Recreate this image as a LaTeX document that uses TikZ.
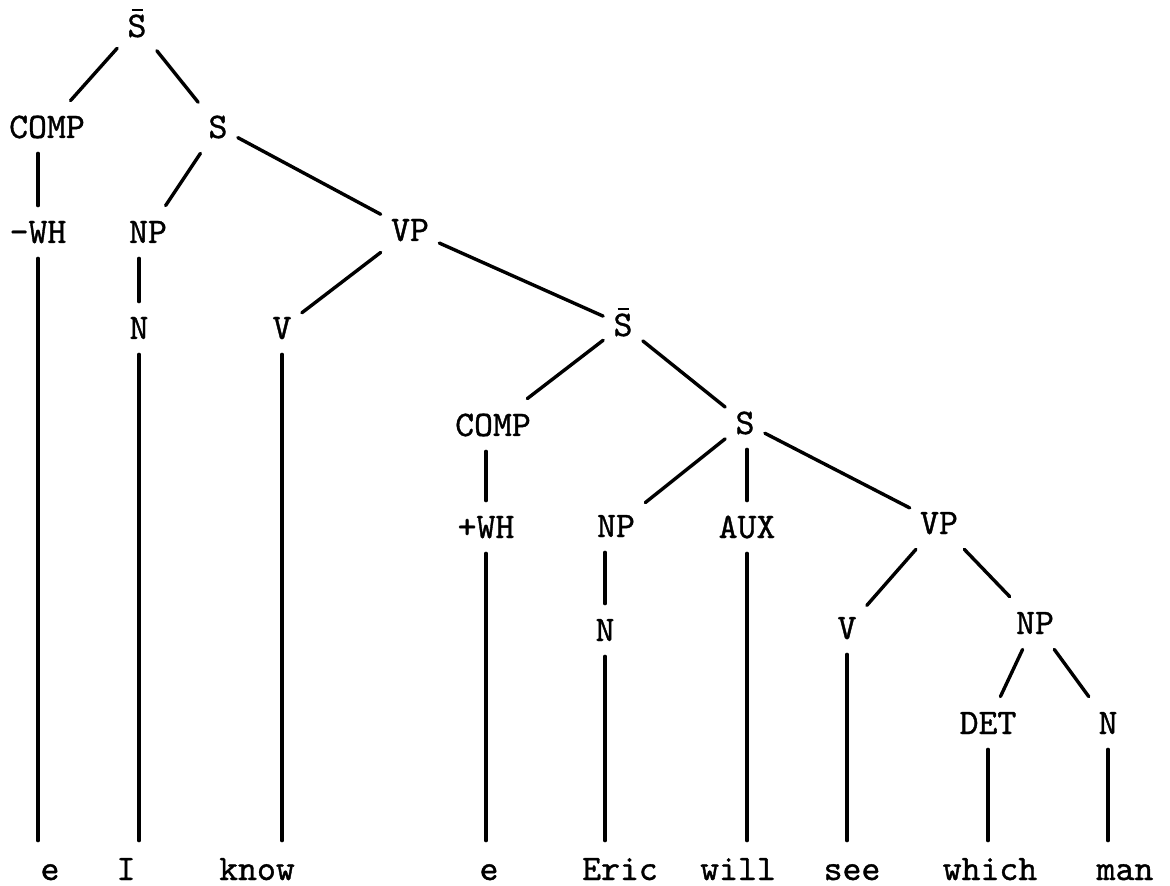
\documentclass[tikz,border=0pt]{standalone}
\usepackage{fontspec}
\newfontfamily\twfont{lmmono10-regular.otf}[FakeBold=1]
\newcommand{\sbarlabel}{\ooalign{S\cr\hidewidth\rule[12.8pt]{5.5pt}{1pt}\hidewidth\cr}}
\begin{document}
\begin{tikzpicture}[x=0.5pt,y=-0.5pt,
  lab/.style={font=\twfont\fontsize{18}{20}\selectfont, text height=11pt, text depth=0pt, inner xsep=5pt, inner ysep=7.5pt},
  leaf/.style={font=\twfont\fontsize{18}{20}\selectfont, anchor=base, text height=9.5pt, text depth=0pt, inner xsep=2pt, inner ysep=10pt},
  branch/.style={line width=1.7pt, line cap=round}]
\useasboundingbox (0,0) rectangle (1170,886);
% categories
\node[lab] (sb1) at (137,26) {\sbarlabel};
\node[lab] (comp1) at (47,127) {COMP};
\node[lab] (s1) at (218,127) {S};
\node[lab] (wh1) at (38,232) {-WH};
\node[lab] (np1) at (148,232) {NP};
\node[lab] (vp1) at (410,230) {VP};
\node[lab] (n1) at (139,328) {N};
\node[lab] (v1) at (282,328) {V};
\node[lab] (sb2) at (623,325) {\sbarlabel};
\node[lab] (comp2) at (493,425) {COMP};
\node[lab] (s2) at (745,423) {S};
\node[lab] (wh2) at (486,527) {+WH};
\node[lab] (np2) at (616,526) {NP};
\node[lab] (aux) at (747,527) {AUX};
\node[lab] (vp2) at (939,523) {VP};
\node[lab] (n2) at (605,630) {N};
\node[lab] (v2) at (847,628) {V};
\node[lab] (np3) at (1035,623) {NP};
\node[lab] (det) at (988,723) {DET};
\node[lab] (n3) at (1108,723) {N};
% words
\node[leaf] (w1) at (50,880) {e};
\node[leaf] (w2) at (126,880) {I};
\node[leaf] (w3) at (257,880) {know};
\node[leaf] (w4) at (489,880) {e};
\node[leaf] (w5) at (620,880) {Eric};
\node[leaf] (w6) at (738,880) {will};
\node[leaf] (w7) at (852,880) {see};
\node[leaf] (w8) at (990,880) {which};
\node[leaf] (w9) at (1125,880) {man};
% branches
\begin{scope}[branch]
\draw (sb1) -- (comp1);
\draw (sb1) -- (s1);
\draw (comp1.south -| wh1) -- (wh1);
\draw (s1) -- (np1);
\draw (s1) -- (vp1);
\draw (np1.south -| n1) -- (n1);
\draw (vp1) -- (v1);
\draw (vp1) -- (sb2);
\draw (sb2) -- (comp2);
\draw (sb2) -- (s2);
\draw (comp2.south -| wh2) -- (wh2);
\draw (s2) -- (np2);
\draw (s2.south -| aux) -- (aux);
\draw (s2) -- (vp2);
\draw (np2.south -| n2) -- (n2);
\draw (vp2) -- (v2);
\draw (vp2) -- (np3);
\draw (np3) -- (det);
\draw (np3) -- (n3);
% to words
\draw (wh1.south) -- (wh1.south |- w1.north);
\draw (n1.south) -- (n1.south |- w2.north);
\draw (v1.south) -- (v1.south |- w3.north);
\draw (wh2.south) -- (wh2.south |- w4.north);
\draw (n2.south) -- (n2.south |- w5.north);
\draw (aux.south) -- (aux.south |- w6.north);
\draw (v2.south) -- (v2.south |- w7.north);
\draw (det.south) -- (det.south |- w8.north);
\draw (n3.south) -- (n3.south |- w9.north);
\end{scope}
\end{tikzpicture}
\end{document}
